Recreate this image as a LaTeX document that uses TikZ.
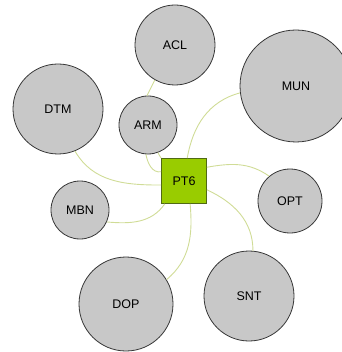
\documentclass[tikz,border=0pt]{standalone}
\usepackage{fontspec}
\setmainfont{Liberation Sans}
\usepackage{tikz}
\usetikzlibrary{positioning}
\definecolor{topicgray}{RGB}{200,200,200}
\definecolor{rimgray}{RGB}{55,55,55}
\definecolor{hubgreen}{RGB}{153,204,0}
\definecolor{hubrim}{RGB}{80,105,20}
\definecolor{linkgreen}{RGB}{208,220,150}
\tikzstyle{topic} = [circle, draw = rimgray, fill = topicgray, line width = 0.8pt, inner sep = 0, font = \fontsize{12.5}{14}\selectfont]
\tikzstyle{hub} = [rectangle, draw = hubrim, fill = hubgreen, line width = 0.8pt, minimum size = 45pt, inner sep = 0, font = \fontsize{12.5}{14}\selectfont]
\tikzstyle{link} = [draw = linkgreen, line width = 0.9pt]

\begin{document}
\begin{tikzpicture}[x=1pt, y=1pt]
            \useasboundingbox (0, 0) rectangle (341, -352);

            \node [hub] (pt6) at (184, -181) {PT6};

            \node [topic, minimum size = 80pt] (acl) at (175, -45) {ACL};
            \node [topic, minimum size = 112pt] (mun) at (296, -86) {MUN};
            \node [topic, minimum size = 90pt] (dtm) at (58, -109) {DTM};
            \node [topic, minimum size = 58pt] (arm) at (148, -125) {ARM};
            \node [topic, minimum size = 64pt] (opt) at (290, -201) {OPT};
            \node [topic, minimum size = 58pt] (mbn) at (80, -210) {MBN};
            \node [topic, minimum size = 94pt] (dop) at (126, -304) {DOP};
            \node [topic, minimum size = 90pt] (snt) at (249, -296) {SNT};

            \draw [link] (acl.-120) -- (arm.92);
            \draw [link] (dtm.-68) to [out = -60, in = 180] (pt6.190);
            \draw [link] (arm.-94) to [out = -80, in = 190] (pt6.158);
            \draw [link] (arm.-70) to [out = -50, in = 140] (pt6.north west);
            \draw [link] (mun.187) to [out = 195, in = 80] (pt6.82);
            \draw [link] (pt6.31) to [out = 10, in = 145] (opt.130);
            \draw [link] (pt6.-21) to [out = -25, in = 90] (snt.85);
            \draw [link] (pt6.-75) to [out = -85, in = 40] (dop.31);
            \draw [link] (pt6.-130) to [out = -125, in = -5] (mbn.-24);
        \end{tikzpicture}
\end{document}
